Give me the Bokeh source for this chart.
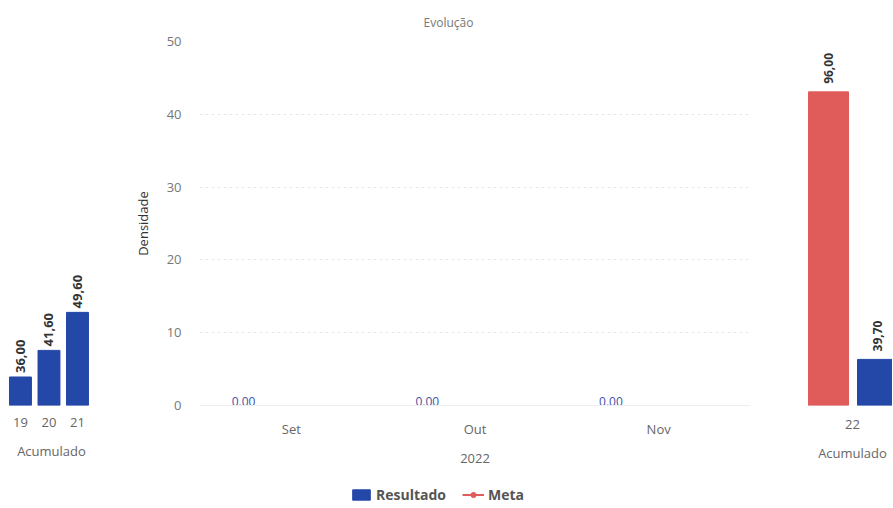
import math
from bokeh.plotting import figure
from bokeh.layouts import row, column
from bokeh.models import (Range1d, FactorRange, FixedTicker, LinearAxis, ColumnDataSource,
                          Legend, LegendItem, LabelSet)
from bokeh.core.properties import value
from bokeh.transform import dodge
from bokeh.embed import file_html
from bokeh.resources import INLINE

# ---------------- data ----------------
nan = float("nan")
PAST_YEARS = ["19", "20", "21"]
PAST_RESULT = [36.00, 41.60, 49.60]

MONTHS = ["Set", "Out", "Nov"]
MONTH_RESULT = [0.00, 0.00, 0.00]
MONTH_META = [nan, nan, nan]
Y_TICKS = [0, 10, 20, 30, 40, 50]
PERIOD_LABEL = "2022"

CUR_YEAR = ["22"]
CUR_META = [96.00]
CUR_RESULT = [39.70]

GROUP_LABEL = "Acumulado"
CHART_TITLE = "Evolução"
Y_LABEL = "Densidade"

# ---------------- style ----------------
FONT = "Open Sans"
BLUE = "#2448a8"
RED = "#e05c5a"
TICK_COLOR = "#666666"
LABEL_COLOR = "#333333"
H = 470          # height of the chart row
LEG_H = 36       # height of the legend strip
TOP = 41         # common frame top
BOTTOM = 405     # common frame bottom


def comma(v):
    return f"{v:.2f}".replace(".", ",")


def style_common(p):
    p.grid.visible = False
    p.outline_line_color = None
    p.background_fill_color = "white"
    p.border_fill_color = "white"


def style_xaxis(ax, standoff=10, label_standoff=12):
    ax.axis_line_color = None
    ax.major_tick_line_color = None
    ax.minor_tick_line_color = None
    ax.major_tick_out = 0
    ax.major_tick_in = 0
    ax.major_label_text_font = FONT
    ax.major_label_text_font_size = "13px"
    ax.major_label_text_color = TICK_COLOR
    ax.major_label_standoff = standoff
    ax.axis_label_text_font = FONT
    ax.axis_label_text_font_size = "13px"
    ax.axis_label_text_font_style = "normal"
    ax.axis_label_text_color = TICK_COLOR
    ax.axis_label_standoff = label_standoff


ACC_Y = Range1d(30, 106.6)

# ---------------- left: accumulated past years ----------------
src1 = ColumnDataSource(dict(x=list(range(len(PAST_YEARS))), top=PAST_RESULT,
                             lbl=[comma(v) for v in PAST_RESULT]))
f1 = figure(width=108, height=H, x_range=Range1d(-0.42, 2.597), y_range=ACC_Y,
            output_backend="svg", toolbar_location=None, y_axis_location=None,
            min_border_left=8, min_border_right=14, min_border_top=TOP,
            min_border_bottom=H - BOTTOM)
style_common(f1)
f1.vbar(x="x", top="top", bottom=0, width=0.77, color=BLUE, source=src1)
f1.add_layout(LabelSet(x="x", y="top", text="lbl", source=src1, angle=math.pi / 2,
                       text_align="left", text_baseline="middle", y_offset=4,
                       text_font=value(FONT), text_font_style="bold",
                       text_font_size="13px", text_color=LABEL_COLOR))
ax1 = f1.xaxis[0]
ax1.ticker = FixedTicker(ticks=list(range(len(PAST_YEARS))))
ax1.major_label_overrides = {i: c for i, c in enumerate(PAST_YEARS)}
ax1.axis_label = GROUP_LABEL
style_xaxis(ax1, standoff=12, label_standoff=12)

# ---------------- center: monthly evolution ----------------
src2 = ColumnDataSource(dict(m=MONTHS, res=MONTH_RESULT, meta=MONTH_META,
                             lbl=[f"{v:.2f}" for v in MONTH_RESULT]))
f2 = figure(width=682, height=H, x_range=FactorRange(*MONTHS), y_range=Range1d(0, 50),
            output_backend="svg", toolbar_location=None,
            min_border_left=91, min_border_right=40, min_border_top=TOP,
            min_border_bottom=H - BOTTOM)
style_common(f2)
f2.vbar(x=dodge("m", -0.26, range=f2.x_range), top="res", bottom=0, width=0.4,
        color=BLUE, source=src2)
f2.line(x="m", y="meta", color=RED, line_width=2, source=src2)
f2.scatter(x="m", y="meta", size=8, color=RED, source=src2)
f2.text(x=dodge("m", -0.26, range=f2.x_range), y="res", text="lbl", source=src2,
        text_align="center", text_baseline="bottom",
        text_font=value(FONT), text_font_size="12px", text_color="#3c4fa8")

f2.ygrid.visible = True
f2.ygrid.grid_line_color = "#e6e6e6"
f2.ygrid.grid_line_dash = "3 3"
f2.ygrid.ticker = FixedTicker(ticks=Y_TICKS)

ya = f2.yaxis[0]
ya.ticker = FixedTicker(ticks=Y_TICKS)
ya.axis_label = Y_LABEL
ya.axis_line_color = None
ya.major_tick_line_color = None
ya.minor_tick_line_color = None
ya.major_tick_out = 0
ya.major_tick_in = 0
ya.major_label_text_font = FONT
ya.major_label_text_font_size = "13px"
ya.major_label_text_color = "#777777"
ya.major_label_standoff = 18
ya.axis_label_text_font = FONT
ya.axis_label_text_font_size = "13px"
ya.axis_label_text_font_style = "normal"
ya.axis_label_text_color = LABEL_COLOR
ya.axis_label_standoff = 12

xa = f2.xaxis[0]
xa.axis_label = PERIOD_LABEL
style_xaxis(xa, standoff=14, label_standoff=13)
xa.axis_line_color = "#eeeeee"

f2.title.text = CHART_TITLE
f2.title.align = "left"
f2.title.offset = 224
f2.title.standoff = 22
f2.title.text_font = FONT
f2.title.text_font_size = "12px"
f2.title.text_font_style = "normal"
f2.title.text_color = "#777777"

# ---------------- right: accumulated current year ----------------
src3 = ColumnDataSource(dict(x=list(range(len(CUR_YEAR))), meta=CUR_META, res=CUR_RESULT,
                             meta_lbl=[comma(v) for v in CUR_META],
                             res_lbl=[comma(v) for v in CUR_RESULT]))
f3 = figure(width=102, height=H, x_range=Range1d(-0.52, 0.40), y_range=ACC_Y,
            output_backend="svg", toolbar_location=None, y_axis_location=None,
            min_border_left=10, min_border_right=0, min_border_top=TOP,
            min_border_bottom=H - BOTTOM)
style_common(f3)
f3.vbar(x=dodge("x", -0.24), top="meta", bottom=0, width=0.40, color=RED, source=src3)
f3.vbar(x=dodge("x", 0.25), top="res", bottom=0, width=0.40, color=BLUE, source=src3)
for xoff, col in ((-0.24, "meta"), (0.25, "res")):
    f3.add_layout(LabelSet(x=dodge("x", xoff), y=col, text=col + "_lbl", source=src3,
                           angle=math.pi / 2, text_align="left", text_baseline="middle",
                           y_offset=8, text_font=value(FONT), text_font_style="bold",
                           text_font_size="12px", text_color=LABEL_COLOR))
ax3 = f3.xaxis[0]
ax3.ticker = FixedTicker(ticks=list(range(len(CUR_YEAR))))
ax3.major_label_overrides = {i: c for i, c in enumerate(CUR_YEAR)}
style_xaxis(ax3, standoff=14)
ax3b = LinearAxis(ticker=FixedTicker(ticks=[0]), major_label_overrides={0: GROUP_LABEL})
style_xaxis(ax3b, standoff=12)
f3.add_layout(ax3b, "below")

# ---------------- legend strip (keys for the center chart's series) ----------------
f4 = figure(width=893, height=LEG_H, x_range=FactorRange(*MONTHS), y_range=Range1d(1, 2),
            output_backend="svg", toolbar_location=None,
            x_axis_location=None, y_axis_location=None, min_border=0)
style_common(f4)
k_res = f4.vbar(x="m", top="res", bottom=0, width=0.4, color=BLUE, source=src2)
k_line = f4.line(x="m", y="meta", color=RED, line_width=2, source=src2)
k_pt = f4.scatter(x="m", y="meta", size=8, color=RED, source=src2)
legend = Legend(items=[LegendItem(label="Resultado", renderers=[k_res]),
                       LegendItem(label="Meta", renderers=[k_line, k_pt])],
                orientation="horizontal", location=(350, 2),
                label_text_font=FONT, label_text_font_size="14px",
                label_text_font_style="bold", label_text_color="#555555",
                glyph_width=22, glyph_height=13, label_height=15,
                label_standoff=4, spacing=16,
                padding=0, margin=0, border_line_color=None, background_fill_alpha=0)
f4.add_layout(legend, "center")

layout = column(row(f1, f2, f3), f4)
open("out.html", "w").write(file_html(layout, INLINE))
